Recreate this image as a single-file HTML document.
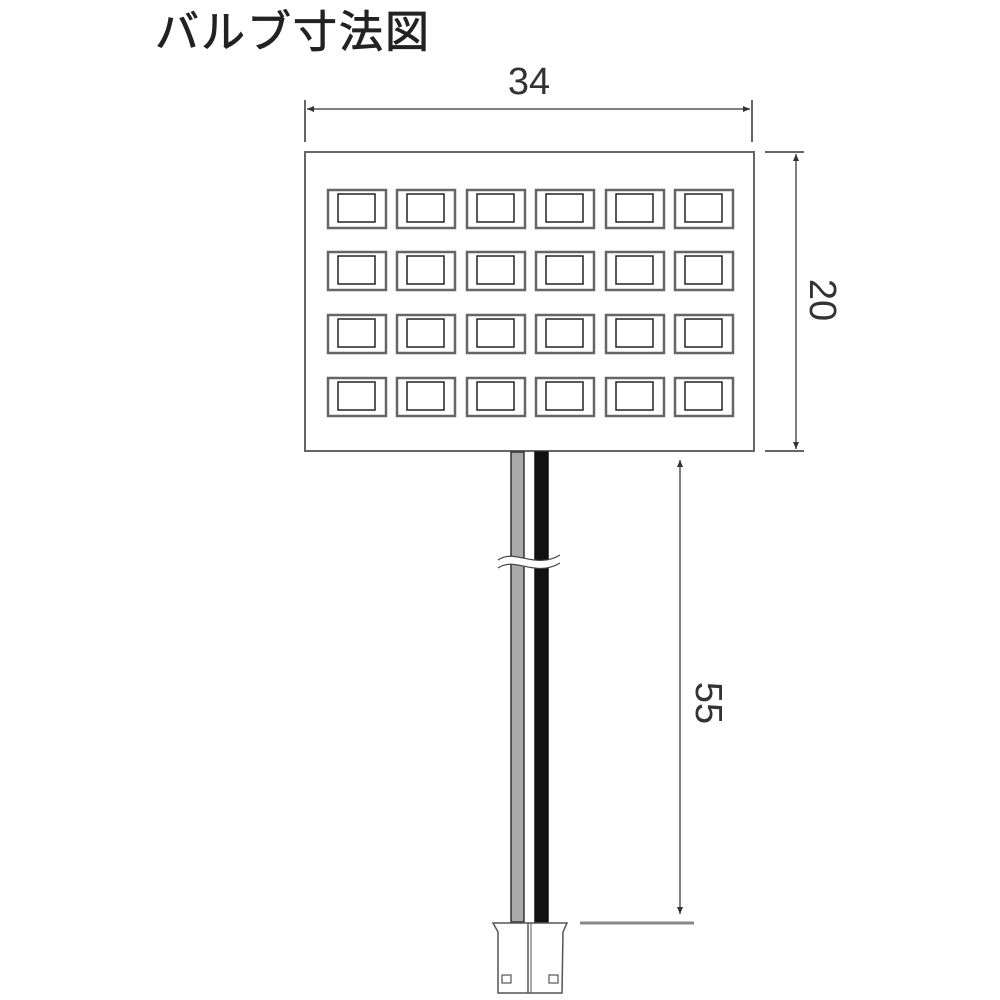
<!DOCTYPE html>
<html><head><meta charset="utf-8"><style>
html,body{margin:0;padding:0;background:#fff;width:1000px;height:1000px;overflow:hidden}
</style></head><body>
<svg width="1000" height="1000" viewBox="0 0 1000 1000" xmlns="http://www.w3.org/2000/svg">
<defs>
<marker id="a" markerWidth="8" markerHeight="8" refX="7" refY="3" orient="auto" markerUnits="userSpaceOnUse"><path d="M0,0 L7,3 L0,6 z" fill="#333"/></marker>
</defs>
<text x="155" y="47" font-family="'Liberation Sans','Noto Sans CJK JP',sans-serif" font-size="44" fill="#222" stroke="#222" stroke-width="0.8" letter-spacing="2">バルブ寸法図</text>
<text x="529" y="94" text-anchor="middle" font-family="'Liberation Sans',sans-serif" font-size="38" fill="#333">34</text>
<line x1="305" y1="100" x2="305" y2="142" stroke="#666" stroke-width="2"/>
<line x1="752" y1="100" x2="752" y2="142" stroke="#666" stroke-width="2"/>
<line x1="400" y1="109" x2="307" y2="109" stroke="#555" stroke-width="1.5" marker-end="url(#a)"/>
<line x1="400" y1="109" x2="750" y2="109" stroke="#555" stroke-width="1.5" marker-end="url(#a)"/>
<rect x="305" y="152" width="449" height="299" fill="#fff" stroke="#666" stroke-width="2"/>
<g fill="none" stroke="#666" stroke-width="2.5">
<g id="row">
<rect x="328" y="190" width="58" height="38"/><rect x="397" y="190" width="58" height="38"/><rect x="467" y="190" width="58" height="38"/><rect x="536" y="190" width="58" height="38"/><rect x="606" y="190" width="58" height="38"/><rect x="675" y="190" width="58" height="38"/>
</g>
<use href="#row" y="62"/><use href="#row" y="125"/><use href="#row" y="188"/>
</g>
<g fill="none" stroke="#222" stroke-width="1.5">
<g id="irow">
<rect x="338" y="194" width="37" height="28"/><rect x="407" y="194" width="37" height="28"/><rect x="477" y="194" width="37" height="28"/><rect x="546" y="194" width="37" height="28"/><rect x="616" y="194" width="37" height="28"/><rect x="685" y="194" width="37" height="28"/>
</g>
<use href="#irow" y="62"/><use href="#irow" y="125"/><use href="#irow" y="188"/>
</g>
<line x1="765" y1="152" x2="804" y2="152" stroke="#666" stroke-width="2"/>
<line x1="765" y1="451" x2="804" y2="451" stroke="#666" stroke-width="2"/>
<line x1="796" y1="300" x2="796" y2="154" stroke="#555" stroke-width="1.5" marker-end="url(#a)"/>
<line x1="796" y1="300" x2="796" y2="449" stroke="#555" stroke-width="1.5" marker-end="url(#a)"/>
<text transform="translate(810,300) rotate(90)" text-anchor="middle" font-family="'Liberation Sans',sans-serif" font-size="38" fill="#333">20</text>
<rect x="511" y="452" width="13" height="470" fill="#aaa" stroke="#333" stroke-width="1.5"/>
<rect x="535" y="452" width="13" height="470" fill="#111" stroke="#111" stroke-width="1.5"/>
<path d="M498,560 C515,548 535,570 560,555 L560,563 C535,578 515,556 498,568 z" fill="#fff"/>
<path d="M498,560 C515,548 535,570 560,555 M498,568 C515,556 535,578 560,563" fill="none" stroke="#444" stroke-width="1.2"/>
<path d="M493,923 L567,923 L563,932 L562,993 L498,993 L498,932 Z" fill="#fff" stroke="#555" stroke-width="1.5"/>
<line x1="528" y1="923" x2="528" y2="993" stroke="#555" stroke-width="1.5"/>
<line x1="531" y1="923" x2="531" y2="993" stroke="#555" stroke-width="1"/>
<rect x="502" y="975" width="9" height="8" fill="none" stroke="#555" stroke-width="1.2"/>
<rect x="549" y="975" width="9" height="8" fill="none" stroke="#555" stroke-width="1.2"/>
<line x1="580" y1="923" x2="694" y2="923" stroke="#888" stroke-width="3"/>
<line x1="680" y1="700" x2="680" y2="460" stroke="#555" stroke-width="1.5" marker-end="url(#a)"/>
<line x1="680" y1="700" x2="680" y2="914" stroke="#555" stroke-width="1.5" marker-end="url(#a)"/>
<text transform="translate(696,703) rotate(90)" text-anchor="middle" font-family="'Liberation Sans',sans-serif" font-size="38" fill="#333">55</text>
</svg>
</body></html>
